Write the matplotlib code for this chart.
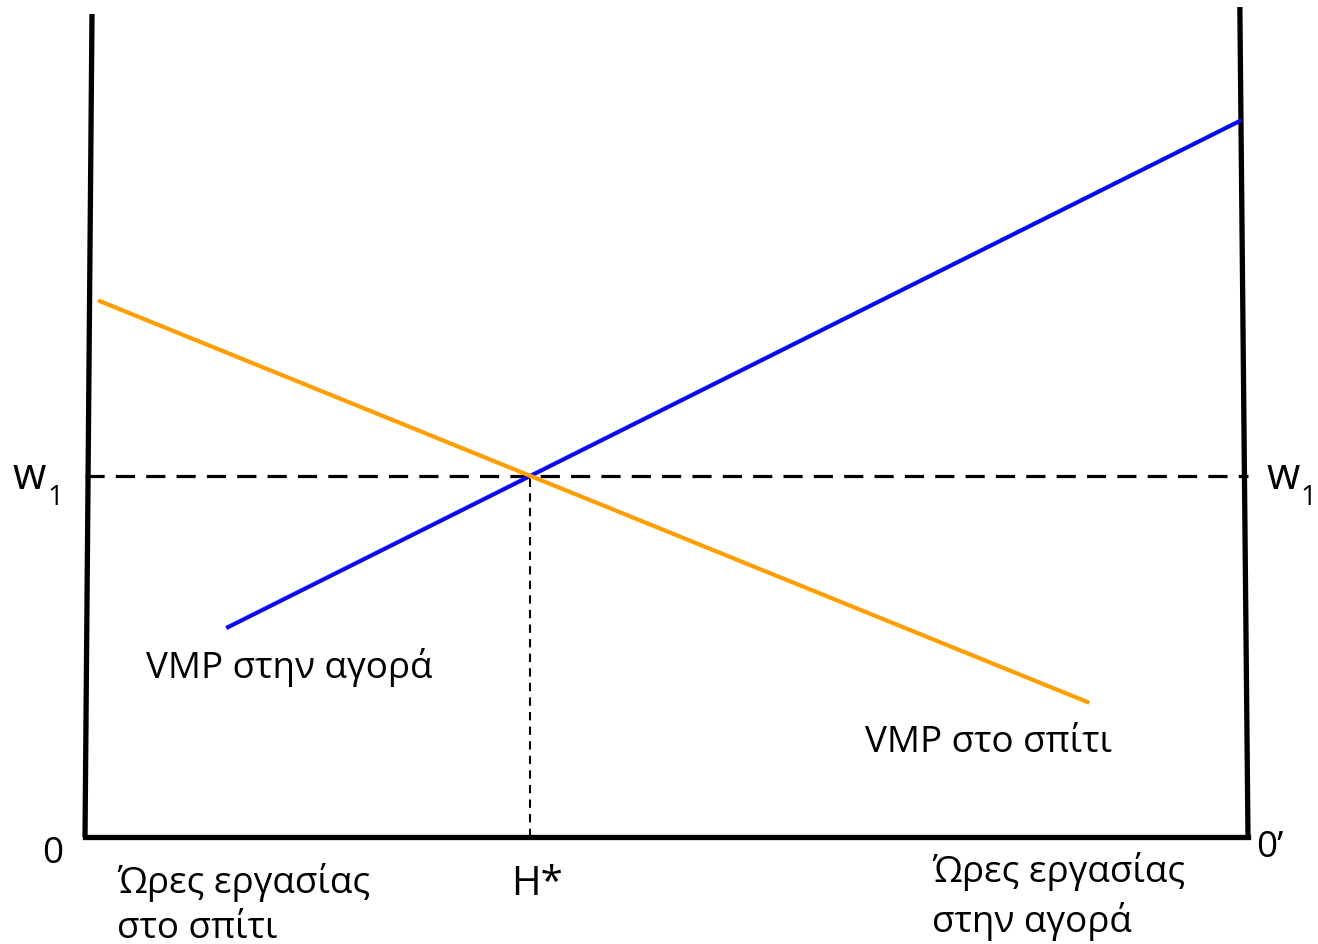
import matplotlib
matplotlib.use("Agg")
import matplotlib.pyplot as plt

# Data (diagram units: x = hours 0..100, y = value 0..100)
left_axis_x = [0.6, 0.0]
left_axis_y = [100.0, 0.0]
right_axis_x = [99.3, 100.0]
right_axis_y = [100.85, 0.0]
bottom_axis_x = [0.0, 100.0]
bottom_axis_y = [0.0, 0.0]

vmp_market_x = [12.3, 99.3]
vmp_market_y = [25.5, 87.0]
vmp_home_x = [1.3, 86.2]
vmp_home_y = [65.1, 16.4]

w1 = 43.9
h_star = 38.3

labels_market = 'VMP στην αγορά'
labels_home = 'VMP στο σπίτι'
axis_home = ['Ώρες εργασίας', 'στο σπίτι']
axis_market = ['Ώρες εργασίας', 'στην αγορά']

plt.rcParams['font.family'] = ['Open Sans', 'DejaVu Sans']

fig = plt.figure(figsize=(13.18, 9.45), dpi=100)
ax = fig.add_axes([0, 0, 1, 1])
ax.set_xlim(-7.31, 106.02)
ax.set_ylim(-13.0, 101.82)
ax.axis('off')


def px(x, y):
    """convert figure pixel position (from top-left) to diagram units"""
    return (x - 85) / 11.63, (838 - y) / 8.23


# axes frame lines
ax.plot(left_axis_x, left_axis_y, color='black', lw=3.8, solid_capstyle='butt', zorder=3)
ax.plot(right_axis_x, right_axis_y, color='black', lw=3.8, solid_capstyle='butt', zorder=3)
ax.plot(bottom_axis_x, bottom_axis_y, color='black', lw=3.8, solid_capstyle='projecting', zorder=3)

# dashed guides
ax.plot([0, 100], [w1, w1], color='black', lw=2.3, dashes=(6, 3.5), zorder=2)
ax.plot([h_star, h_star], [0, w1], color='black', lw=1.5, dashes=(4, 3), zorder=2)

# curves
ax.plot(vmp_market_x, vmp_market_y, color='#0A0AF0', lw=3.0, zorder=4)
ax.plot(vmp_home_x, vmp_home_y, color='#FF9E00', lw=3.0, zorder=4)

fs = 26.5
# w1 labels
ax.text(*px(12, 489), 'w', fontsize=31, ha='left', va='baseline')
ax.text(*px(47, 505), '1', fontsize=20, ha='left', va='baseline')
ax.text(*px(1267, 489), 'w', fontsize=31, ha='left', va='baseline')
ax.text(*px(1300, 505), '1', fontsize=20, ha='left', va='baseline')

ax.text(*px(42, 863), '0', fontsize=fs, ha='left', va='baseline')
ax.text(*px(1256, 857), '0’', fontsize=fs, ha='left', va='baseline')
ax.text(*px(511, 895), 'H*', fontsize=29, ha='left', va='baseline')

ax.text(*px(117, 893), axis_home[0], fontsize=fs, ha='left', va='baseline')
ax.text(*px(117, 938), axis_home[1], fontsize=fs, ha='left', va='baseline')
ax.text(*px(932, 882), axis_market[0], fontsize=fs, ha='left', va='baseline')
ax.text(*px(932, 932), axis_market[1], fontsize=fs, ha='left', va='baseline')

ax.text(*px(146, 678), labels_market, fontsize=fs, ha='left', va='baseline')
ax.text(*px(865, 752), labels_home, fontsize=fs, ha='left', va='baseline')

fig.savefig('out.png', dpi=100)
